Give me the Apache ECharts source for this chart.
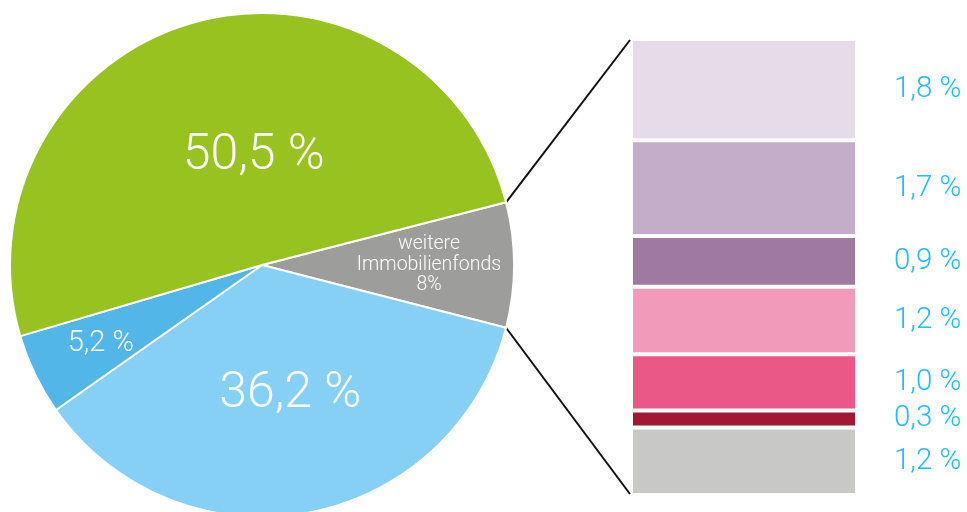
<!DOCTYPE html>
<html>
<head>
<meta charset="utf-8">
<script src="https://cdn.jsdelivr.net/npm/echarts@6/dist/echarts.min.js"></script>
<style>
  html, body { margin: 0; padding: 0; background: #fff; }
  #chart { width: 967px; height: 512px; }
</style>
</head>
<body>
<div id="chart"></div>
<script>
// Portfolio split (pie) and breakdown of "weitere Immobilienfonds" (stacked column)
const pieNames = ['weitere Immobilienfonds', 'Segment B', 'Segment C', 'Segment A'];
const pieValues = [8, 36.2, 5.2, 50.5];
const pieColors = ['#9D9D9C', '#86D0F5', '#52B7E8', '#97C21F'];

const detailValues = [1.8, 1.7, 0.9, 1.2, 1.0, 0.3, 1.2];
const detailColors = ['#E5DBE9', '#C4ADC9', '#A079A0', '#F19ABA', '#EA5887', '#A21834', '#C8C8C7'];

const FONT = 'Roboto';
const pieCenter = [262, 265];
const pieRadius = 252;
const grid = { left: 631, top: 39, width: 226, height: 456 };

const fmt = v => v.toFixed(1).replace('.', ',') + ' %';

const pieTotal = pieValues.reduce((a, b) => a + b, 0);
const grayHalfAngle = pieValues[0] / pieTotal * 180; // degrees
const detailTotal = detailValues.reduce((a, b) => a + b, 0);

// label nudges relative to the default inside position (dx, dy)
const labelShift = [[38, 0], [5, 3], [-45, 23], [26, 16]];

const chart = echarts.init(document.getElementById('chart'), null, { renderer: 'canvas' });

const pieSeries = {
  type: 'pie',
  center: pieCenter,
  radius: pieRadius,
  startAngle: grayHalfAngle,
  clockwise: true,
  silent: true,
  animation: false,
  itemStyle: { borderColor: '#ffffff', borderWidth: 2 },
  labelLine: { show: false },
  data: pieValues.map((v, i) => {
    const isGray = i === 0;
    const big = v > 30;
    return {
      name: pieNames[i],
      value: v,
      itemStyle: { color: pieColors[i] },
      label: {
        show: true,
        position: 'inside',
        color: '#ffffff',
        fontFamily: FONT,
        fontWeight: 300,
        fontSize: isGray ? 19.5 : (big ? 50 : 29),
        lineHeight: isGray ? 20.5 : undefined,
        align: 'center',
        formatter: isGray ? ('weitere\nImmobilienfonds\n' + v + '%') : fmt(v)
      }
    };
  }),
  labelLayout: p => ({ dx: labelShift[p.dataIndex][0], dy: labelShift[p.dataIndex][1] })
};

const barSeries = detailValues.map((v, i) => ({
  type: 'bar',
  stack: 'detail',
  barWidth: '100%',
  silent: true,
  animation: false,
  itemStyle: { color: detailColors[i], borderColor: '#ffffff', borderWidth: 2 },
  label: {
    show: true,
    position: 'right',
    distance: 37,
    color: '#1FBEEF',
    fontFamily: FONT,
    fontWeight: 300,
    fontSize: 29.5,
    formatter: p => fmt(p.value)
  },
  data: [v]
}));

// connector lines from the gray slice edge to the column corners
const rad = grayHalfAngle * Math.PI / 180;
const edgeX = pieCenter[0] + pieRadius * Math.cos(rad);
const edgeTop = pieCenter[1] - pieRadius * Math.sin(rad);
const edgeBottom = pieCenter[1] + pieRadius * Math.sin(rad);

chart.setOption({
  animation: false,
  backgroundColor: '#ffffff',
  grid: { left: grid.left, top: grid.top, width: grid.width, height: grid.height },
  xAxis: { type: 'category', data: [''], show: false },
  yAxis: { type: 'value', min: 0, max: detailTotal, inverse: true, show: false },
  series: [pieSeries].concat(barSeries),
  graphic: [
    { type: 'line', shape: { x1: edgeX, y1: edgeTop, x2: grid.left - 1, y2: grid.top + 1 },
      style: { stroke: '#111111', lineWidth: 2 }, silent: true },
    { type: 'line', shape: { x1: edgeX, y1: edgeBottom, x2: grid.left - 1, y2: grid.top + grid.height - 1 },
      style: { stroke: '#111111', lineWidth: 2 }, silent: true }
  ]
});
</script>
</body>
</html>
